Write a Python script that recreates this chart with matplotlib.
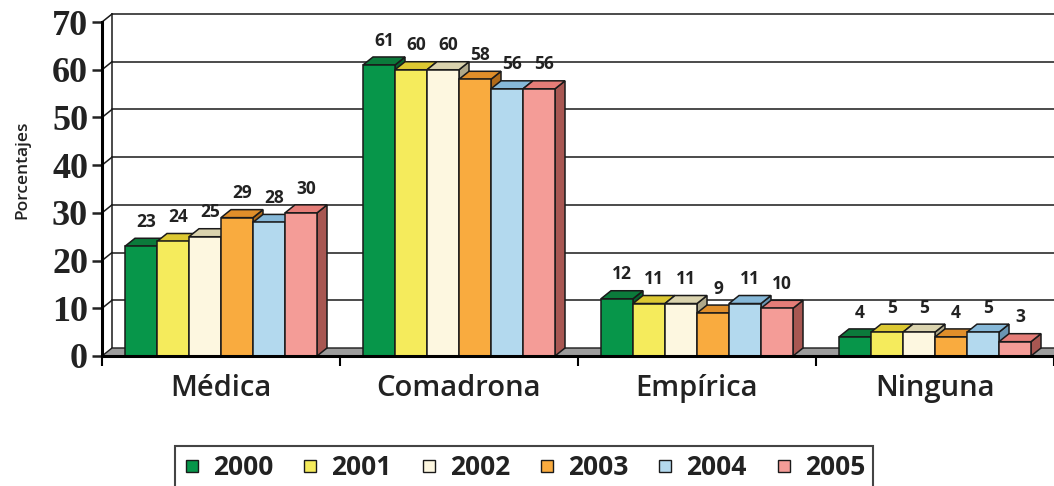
import numpy as np
import matplotlib
matplotlib.use('Agg')
import matplotlib.pyplot as plt
from matplotlib.patches import Polygon
from matplotlib.lines import Line2D

# ---- data -------------------------------------------------------------
categories = ['Médica', 'Comadrona', 'Empírica', 'Ninguna']
years = ['2000', '2001', '2002', '2003', '2004', '2005']
medica = [23, 24, 25, 29, 28, 30]
comadrona = [61, 60, 60, 58, 56, 56]
empirica = [12, 11, 11, 9, 11, 10]
ninguna = [4, 5, 5, 4, 5, 3]
yticks = [0, 10, 20, 30, 40, 50, 60, 70]

front_col = ['#07964A', '#F5EB5C', '#FDF7E0', '#F9AB3F', '#B3D9EE', '#F49C97']
top_col = ['#0B7A3B', '#DCC832', '#DAD3AE', '#E08E2A', '#86B8D8', '#E57D78']
side_col = ['#06632F', '#A89A20', '#AFA88A', '#B06A1A', '#6A96B2', '#A85752']

values = np.array([medica, comadrona, empirica, ninguna])

# ---- figure / axes geometry (pixels of a 1054x486 picture) -----------
W, H = 1054, 486
fig = plt.figure(figsize=(W / 100, H / 100), dpi=100)
ppu = 4.771            # pixels per percent unit
y0_px = 356            # pixel row of value 0
ylo, yhi = -3, 73
ax = fig.add_axes([102 / W, (H - (y0_px + (0 - ylo) * ppu)) / H,
                   952 / W, (yhi - ylo) * ppu / H])
ax.set_xlim(0, 4)
ax.set_ylim(ylo, yhi)

dx = 10 / 238          # depth offset in x (category units)
dy = 8 / ppu           # depth offset in y (percent units)
bw = 32 / 238          # bar width
off = 23 / 238         # offset of first bar in each group
edge = '#1a1a1a'
sans = ['Open Sans', 'DejaVu Sans']

# floor strip
ax.add_patch(Polygon([(0, 0), (4, 0), (4 + dx, dy), (dx, dy)], closed=True,
                     facecolor='#9c9c9c', edgecolor=edge, lw=1.0, zorder=1,
                     clip_on=False))

# back wall + side wall grid
for v in yticks[1:]:
    ax.plot([dx, 4], [v + dy, v + dy], color=edge, lw=1.1, zorder=0.5,
            clip_on=False)
    ax.plot([0, dx], [v, v + dy], color=edge, lw=1.1, zorder=0.5)
ax.plot([dx, dx], [dy, 70 + dy], color=edge, lw=1.1, zorder=0.5)

# bars
for g in range(len(categories)):
    for i in range(len(years)):
        v = values[g, i]
        x0 = g + off + i * bw
        x1 = x0 + bw
        z = 2 + g * 10 + i
        ax.add_patch(Polygon([(x1, 0), (x1 + dx, dy), (x1 + dx, v + dy), (x1, v)],
                             closed=True, facecolor=side_col[i], edgecolor=edge,
                             lw=1.1, zorder=z))
        ax.add_patch(Polygon([(x0, v), (x0 + dx, v + dy), (x1 + dx, v + dy), (x1, v)],
                             closed=True, facecolor=top_col[i], edgecolor=edge,
                             lw=1.1, zorder=z))
        ax.bar(x0, v, width=bw, align='edge', color=front_col[i],
               edgecolor=edge, lw=1.1, zorder=z + 0.5)
        ax.text(x0 + bw / 2 + dx / 2, v + 5.1, str(v), ha='center', va='center',
                fontsize=12.5, fontweight='bold', color='#222222',
                family=sans, zorder=100)

# axes: spines and ticks
for s in ['top', 'right']:
    ax.spines[s].set_visible(False)
ax.spines['left'].set_position(('data', 0))
ax.spines['left'].set_bounds(0, 70)
ax.spines['left'].set_linewidth(2.2)
ax.spines['bottom'].set_position(('data', 0))
ax.spines['bottom'].set_bounds(0, 4)
ax.spines['bottom'].set_linewidth(2.2)
ax.spines['left'].set_zorder(200)
ax.spines['bottom'].set_zorder(200)

ax.set_yticks(yticks)
ax.set_yticklabels([str(t) for t in yticks])
ax.tick_params(axis='y', direction='out', length=7, width=1.8, pad=3,
               labelsize=26, colors='#222222')
for lab in ax.get_yticklabels():
    lab.set_family(['Liberation Serif', 'DejaVu Serif'])
    lab.set_fontweight('bold')

ax.set_xticks([0, 1, 2, 3, 4])
ax.set_xticklabels([])
ax.tick_params(axis='x', which='major', direction='out', length=7, width=1.5)
ax.set_xticks([0.5, 1.5, 2.5, 3.5], minor=True)
ax.set_xticklabels(categories, minor=True)
ax.tick_params(axis='x', which='minor', length=0, pad=13, labelsize=21,
               colors='#222222')
for lab in ax.get_xticklabels(minor=True):
    lab.set_family(sans)
    lab.set_fontweight('semibold')

fig.text(22 / W, 1 - 170 / H, 'Porcentajes', rotation=90, ha='center',
         va='center', fontsize=12.5, fontweight='semibold', color='#222222',
         family=sans)

# legend
handles = [Line2D([], [], marker='s', linestyle='none', markersize=8,
                  markerfacecolor=front_col[i], markeredgecolor=edge,
                  markeredgewidth=1.0) for i in range(len(years))]
leg = fig.legend(handles, years, loc='upper center', ncol=6,
                 bbox_to_anchor=(524 / W, 1 - 446 / H), borderaxespad=0,
                 frameon=True, fancybox=False, edgecolor='#444444',
                 framealpha=1, handlelength=0.7, handletextpad=0.45,
                 columnspacing=1.05, borderpad=0.3,
                 prop={'family': sans, 'weight': 'bold', 'size': 19,
                       'stretch': 'condensed'})
leg.get_frame().set_linewidth(1.5)
for t in leg.get_texts():
    t.set_color('#222222')

fig.savefig('out.png', dpi=100)
